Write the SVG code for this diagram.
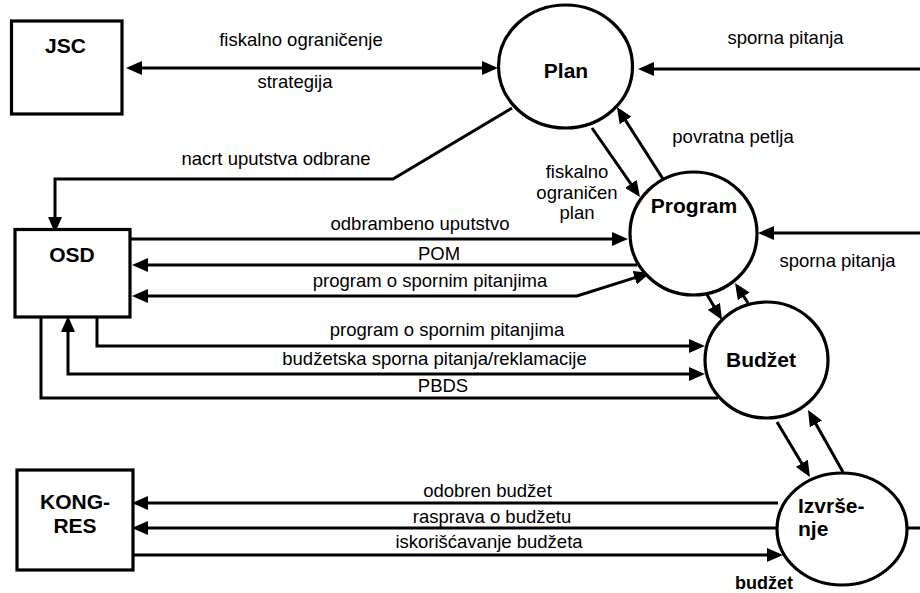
<svg xmlns="http://www.w3.org/2000/svg" width="920" height="593" viewBox="0 0 920 593">
<style>
  .box { fill: #fff; stroke: #000; stroke-width: 3.2; }
  .proc { fill: #fff; stroke: #000; stroke-width: 3.2; }
  .ln { fill: none; stroke: #000; stroke-width: 3; }
  .lb { font-family: "Liberation Sans", Arial, sans-serif; font-size: 18.5px; fill: #000; text-anchor: middle; }
  .nb { font-family: "Liberation Sans", Arial, sans-serif; font-size: 21px; font-weight: bold; fill: #000; text-anchor: middle; }
</style>
<defs>
  <marker id="ah" markerUnits="userSpaceOnUse" markerWidth="16" markerHeight="14" refX="12" refY="7" orient="auto-start-reverse">
    <path d="M0,0 L16,7 L0,14 z" fill="#000"/>
  </marker>
</defs>
<rect width="920" height="593" fill="#fff"/>

<g id="connectors">
  <line class="ln" x1="130" y1="68" x2="494" y2="68" marker-start="url(#ah)" marker-end="url(#ah)"/>
  <line class="ln" x1="920" y1="69" x2="642" y2="69" marker-end="url(#ah)"/>
  <polyline class="ln" points="512,108 393,179 55,179 55,229" marker-end="url(#ah)"/>
  <line class="ln" x1="592" y1="128" x2="637.7" y2="193.7" marker-end="url(#ah)"/>
  <line class="ln" x1="663" y1="179" x2="619.1" y2="110.4" marker-end="url(#ah)"/>
  <line class="ln" x1="130" y1="239" x2="624" y2="239" marker-end="url(#ah)"/>
  <line class="ln" x1="637" y1="265" x2="136" y2="265" marker-end="url(#ah)"/>
  <polyline class="ln" points="136,296 577,296 646.2,274.1" marker-start="url(#ah)" marker-end="url(#ah)"/>
  <line class="ln" x1="920" y1="233" x2="762" y2="233" marker-end="url(#ah)"/>
  <line class="ln" x1="706" y1="293" x2="720" y2="316.6" marker-end="url(#ah)"/>
  <line class="ln" x1="748" y1="303" x2="737.2" y2="286.3" marker-end="url(#ah)"/>
  <polyline class="ln" points="97,317 97,346 701,346" marker-end="url(#ah)"/>
  <polyline class="ln" points="68,320 68,374 701,374" marker-start="url(#ah)" marker-end="url(#ah)"/>
  <polyline class="ln" points="41,317 41,398 718,398"/>
  <line class="ln" x1="777" y1="422" x2="807.9" y2="473.6" marker-end="url(#ah)"/>
  <line class="ln" x1="843" y1="472" x2="810" y2="413.5" marker-end="url(#ah)"/>
  <line class="ln" x1="907" y1="528" x2="920" y2="528"/>
  <line class="ln" x1="778" y1="503" x2="136" y2="503" marker-end="url(#ah)"/>
  <line class="ln" x1="777" y1="528" x2="136" y2="528" marker-end="url(#ah)"/>
  <line class="ln" x1="133" y1="555" x2="779" y2="555" marker-end="url(#ah)"/>

  <text class="lb" x="301" y="46">fiskalno ograničenje</text>
  <text class="lb" x="295" y="88">strategija</text>
  <text class="lb" x="785.5" y="44">sporna pitanja</text>
  <text class="lb" x="276" y="165">nacrt uputstva odbrane</text>
  <text class="lb" x="733" y="143">povratna petlja</text>
  <text class="lb" x="577" y="178">fiskalno</text>
  <text class="lb" x="577" y="198.5">ograničen</text>
  <text class="lb" x="577" y="219">plan</text>
  <text class="lb" x="420" y="230">odbrambeno uputstvo</text>
  <text class="lb" x="439" y="260">POM</text>
  <text class="lb" x="430" y="287">program o spornim pitanjima</text>
  <text class="lb" x="837.5" y="267">sporna pitanja</text>
  <text class="lb" x="447" y="336">program o spornim pitanjima</text>
  <text class="lb" x="434.5" y="365">budžetska sporna pitanja/reklamacije</text>
  <text class="lb" x="443" y="392">PBDS</text>
  <text class="lb" x="487.5" y="497">odobren budžet</text>
  <text class="lb" x="492" y="523">rasprava o budžetu</text>
  <text class="lb" x="489" y="548">iskorišćavanje budžeta</text>
  <text class="nb" x="764" y="589" style="font-size:18px">budžet</text>
</g>

<g id="JSC">
  <rect class="box" x="11.5" y="21" width="110.5" height="93"/>
  <text class="nb" x="65.5" y="53">JSC</text>
</g>
<g id="OSD">
  <rect class="box" x="15" y="229.5" width="115" height="87.5"/>
  <text class="nb" x="72" y="261.5">OSD</text>
</g>
<g id="KONGRES">
  <rect class="box" x="17" y="470" width="116" height="100"/>
  <text class="nb" x="75" y="508.5">KONG-</text>
  <text class="nb" x="75" y="533">RES</text>
</g>
<g id="Plan">
  <ellipse class="proc" cx="565.5" cy="66.5" rx="67" ry="61.5"/>
  <text class="nb" x="566" y="78">Plan</text>
</g>
<g id="Program">
  <ellipse class="proc" cx="693.5" cy="233.5" rx="63.5" ry="61.5"/>
  <text class="nb" x="694" y="213">Program</text>
</g>
<g id="Budzet">
  <ellipse class="proc" cx="766.5" cy="360" rx="61.5" ry="58"/>
  <text class="nb" x="761" y="366.5">Budžet</text>
</g>
<g id="Izvrsenje">
  <ellipse class="proc" cx="842" cy="529" rx="65" ry="56"/>
  <text class="nb" x="798" y="513" style="text-anchor:start">Izvrše-</text>
  <text class="nb" x="798" y="536" style="text-anchor:start">nje</text>
</g>
</svg>
